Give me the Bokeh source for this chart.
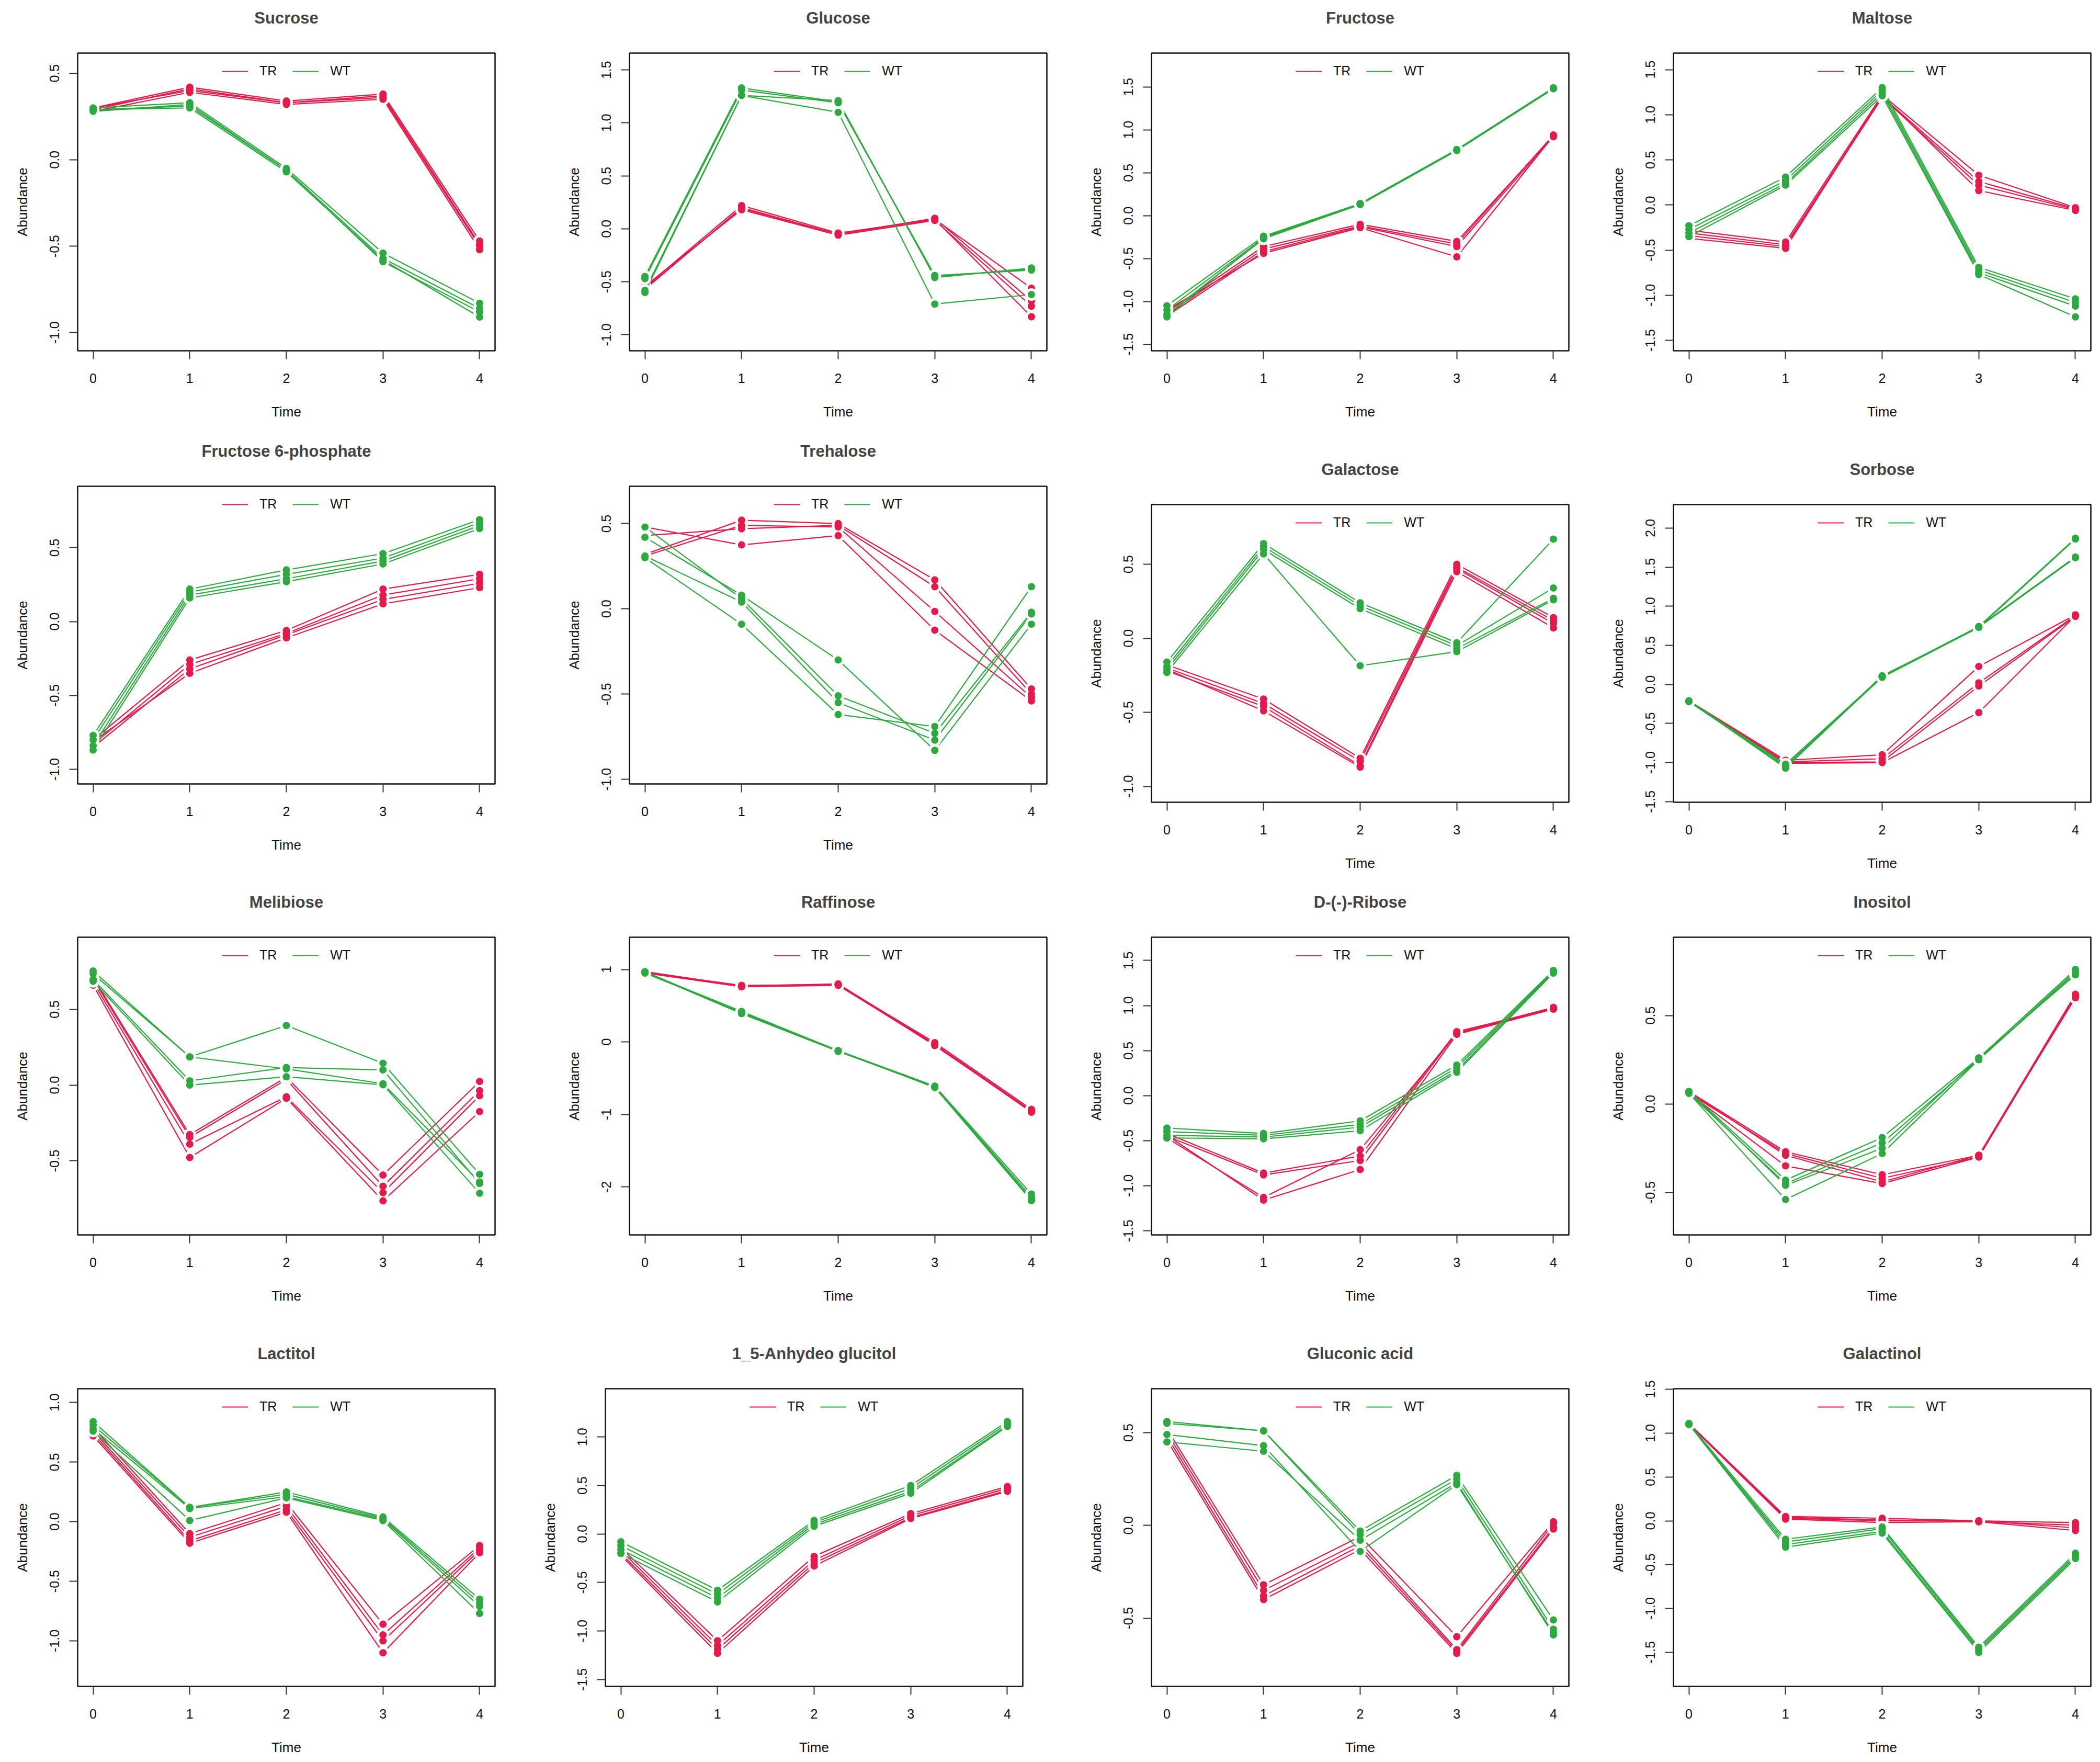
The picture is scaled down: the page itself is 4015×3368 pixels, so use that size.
from bokeh.plotting import figure
from bokeh.layouts import column, row
from bokeh.models import Range1d, FixedTicker, Legend, LegendItem, Spacer
from bokeh.embed import file_html
from bokeh.resources import INLINE

TIME = [0, 1, 2, 3, 4]

TITLES = ["Sucrose", "Glucose", "Fructose", "Maltose",
          "Fructose 6-phosphate", "Trehalose", "Galactose", "Sorbose",
          "Melibiose", "Raffinose", "D-(-)-Ribose", "Inositol",
          "Lactitol", "1_5-Anhydeo glucitol", "Gluconic acid", "Galactinol"]

# each group: 4 replicates x 5 time points
SUCROSE_TR = [[0.30, 0.42, 0.34, 0.38, -0.47], [0.29, 0.41, 0.33, 0.37, -0.49], [0.30, 0.40, 0.33, 0.36, -0.50], [0.28, 0.39, 0.32, 0.35, -0.52]]
SUCROSE_WT = [[0.30, 0.33, -0.05, -0.54, -0.83], [0.29, 0.31, -0.06, -0.57, -0.86], [0.28, 0.32, -0.06, -0.59, -0.88], [0.29, 0.30, -0.07, -0.58, -0.91]]
GLUCOSE_TR = [[-0.55, 0.22, -0.04, 0.09, -0.56], [-0.56, 0.19, -0.05, 0.10, -0.68], [-0.54, 0.18, -0.06, 0.08, -0.73], [-0.57, 0.20, -0.05, 0.09, -0.83]]
GLUCOSE_WT = [[-0.45, 1.33, 1.20, -0.45, -0.38], [-0.58, 1.26, 1.21, -0.46, -0.37], [-0.60, 1.26, 1.10, -0.71, -0.62], [-0.47, 1.31, 1.19, -0.44, -0.39]]
FRUCTOSE_TR = [[-1.12, -0.36, -0.10, -0.30, 0.93], [-1.15, -0.39, -0.12, -0.33, 0.94], [-1.17, -0.42, -0.13, -0.36, 0.92], [-1.10, -0.44, -0.14, -0.48, 0.93]]
FRUCTOSE_WT = [[-1.05, -0.24, 0.14, 0.77, 1.49], [-1.10, -0.26, 0.13, 0.76, 1.48], [-1.15, -0.27, 0.13, 0.76, 1.48], [-1.18, -0.25, 0.14, 0.77, 1.49]]
MALTOSE_TR = [[-0.28, -0.41, 1.22, 0.33, -0.03], [-0.31, -0.44, 1.20, 0.26, -0.04], [-0.34, -0.46, 1.19, 0.22, -0.05], [-0.37, -0.48, 1.21, 0.16, -0.06]]
MALTOSE_WT = [[-0.23, 0.31, 1.30, -0.69, -1.04], [-0.27, 0.27, 1.27, -0.72, -1.08], [-0.31, 0.24, 1.24, -0.75, -1.12], [-0.35, 0.22, 1.21, -0.77, -1.24]]
F6P_TR = [[-0.80, -0.26, -0.06, 0.22, 0.32], [-0.83, -0.29, -0.08, 0.18, 0.29], [-0.85, -0.32, -0.09, 0.15, 0.26], [-0.81, -0.35, -0.11, 0.12, 0.23]]
F6P_WT = [[-0.77, 0.22, 0.35, 0.46, 0.69], [-0.80, 0.20, 0.32, 0.43, 0.67], [-0.84, 0.18, 0.29, 0.41, 0.65], [-0.87, 0.16, 0.27, 0.39, 0.63]]
TREHALOSE_TR = [[0.48, 0.375, 0.43, -0.125, -0.54], [0.43, 0.47, 0.49, 0.13, -0.50], [0.32, 0.52, 0.50, 0.17, -0.47], [0.31, 0.49, 0.48, -0.015, -0.52]]
TREHALOSE_WT = [[0.48, 0.06, -0.51, -0.73, -0.02], [0.42, 0.08, -0.30, -0.83, -0.09], [0.31, 0.04, -0.55, -0.77, -0.03], [0.30, -0.09, -0.62, -0.69, 0.13]]
GALACTOSE_TR = [[-0.18, -0.41, -0.81, 0.50, 0.14], [-0.20, -0.44, -0.83, 0.48, 0.12], [-0.22, -0.46, -0.86, 0.47, 0.10], [-0.21, -0.49, -0.87, 0.45, 0.07]]
GALACTOSE_WT = [[-0.16, 0.64, 0.24, -0.03, 0.67], [-0.19, 0.62, 0.22, -0.05, 0.34], [-0.21, 0.60, 0.20, -0.07, 0.27], [-0.23, 0.57, -0.185, -0.09, 0.26]]
SORBOSE_TR = [[-0.21, -0.97, -0.90, 0.23, 0.89], [-0.22, -0.99, -0.95, 0.02, 0.88], [-0.21, -1.00, -0.99, -0.02, 0.87], [-0.22, -1.01, -1.00, -0.36, 0.88]]
SORBOSE_WT = [[-0.21, -1.02, 0.10, 0.74, 1.87], [-0.22, -1.05, 0.11, 0.73, 1.86], [-0.21, -1.07, 0.10, 0.74, 1.63], [-0.22, -1.04, 0.09, 0.73, 1.62]]
MELIBIOSE_TR = [[0.71, -0.327, 0.052, -0.594, 0.024], [0.70, -0.345, 0.037, -0.668, -0.037], [0.68, -0.39, -0.077, -0.71, -0.07], [0.66, -0.478, -0.087, -0.764, -0.175]]
MELIBIOSE_WT = [[0.753, 0.186, 0.393, 0.144, -0.589], [0.734, 0.186, 0.107, 0.009, -0.64], [0.697, 0.028, 0.116, 0.10, -0.65], [0.685, 0.0, 0.055, 0.002, -0.714]]
RAFFINOSE_TR = [[0.96, 0.78, 0.79, -0.01, -0.93], [0.97, 0.77, 0.80, -0.03, -0.95], [0.96, 0.77, 0.79, -0.05, -0.96], [0.95, 0.76, 0.78, -0.04, -0.97]]
RAFFINOSE_WT = [[0.96, 0.42, -0.12, -0.61, -2.10], [0.97, 0.40, -0.13, -0.62, -2.14], [0.96, 0.39, -0.13, -0.62, -2.17], [0.95, 0.41, -0.12, -0.63, -2.19]]
RIBOSE_TR = [[-0.42, -0.86, -0.67, 0.71, 0.97], [-0.45, -0.88, -0.72, 0.70, 0.98], [-0.47, -1.13, -0.60, 0.69, 0.97], [-0.44, -1.16, -0.82, 0.68, 0.96]]
RIBOSE_WT = [[-0.36, -0.42, -0.28, 0.34, 1.39], [-0.40, -0.44, -0.32, 0.31, 1.38], [-0.44, -0.46, -0.35, 0.28, 1.37], [-0.47, -0.48, -0.39, 0.26, 1.36]]
INOSITOL_TR = [[0.07, -0.27, -0.40, -0.29, 0.62], [0.06, -0.28, -0.42, -0.30, 0.61], [0.07, -0.29, -0.44, -0.29, 0.60], [0.06, -0.35, -0.45, -0.30, 0.61]]
INOSITOL_WT = [[0.07, -0.43, -0.19, 0.26, 0.76], [0.06, -0.45, -0.22, 0.25, 0.74], [0.07, -0.46, -0.25, 0.26, 0.73], [0.06, -0.54, -0.28, 0.25, 0.75]]
LACTITOL_TR = [[0.79, -0.10, 0.16, -0.86, -0.20], [0.76, -0.13, 0.13, -0.95, -0.22], [0.74, -0.16, 0.10, -1.00, -0.24], [0.72, -0.18, 0.08, -1.10, -0.26]]
LACTITOL_WT = [[0.84, 0.12, 0.25, 0.04, -0.65], [0.81, 0.12, 0.23, 0.03, -0.68], [0.78, 0.11, 0.21, 0.02, -0.71], [0.76, 0.01, 0.20, 0.01, -0.77]]
ANHYDRO_TR = [[-0.14, -1.10, -0.23, 0.21, 0.49], [-0.17, -1.15, -0.27, 0.19, 0.47], [-0.20, -1.19, -0.30, 0.17, 0.45], [-0.22, -1.23, -0.33, 0.16, 0.44]]
ANHYDRO_WT = [[-0.08, -0.58, 0.14, 0.50, 1.16], [-0.12, -0.62, 0.12, 0.47, 1.14], [-0.16, -0.66, 0.10, 0.44, 1.12], [-0.20, -0.70, 0.08, 0.42, 1.11]]
GLUCONIC_TR = [[0.52, -0.32, -0.06, -0.60, 0.02], [0.50, -0.35, -0.09, -0.67, 0.01], [0.48, -0.38, -0.11, -0.68, -0.01], [0.46, -0.40, -0.13, -0.69, -0.02]]
GLUCONIC_WT = [[0.56, 0.51, -0.03, 0.27, -0.51], [0.55, 0.51, -0.05, 0.25, -0.56], [0.49, 0.43, -0.14, 0.22, -0.58], [0.45, 0.40, -0.08, 0.23, -0.59]]
GALACTINOL_TR = [[1.11, 0.05, 0.03, 0.0, -0.02], [1.10, 0.04, 0.01, -0.01, -0.05], [1.11, 0.03, 0.0, 0.0, -0.08], [1.10, 0.02, -0.02, -0.01, -0.11]]
GALACTINOL_WT = [[1.11, -0.21, -0.07, -1.44, -0.37], [1.10, -0.24, -0.09, -1.46, -0.39], [1.11, -0.27, -0.12, -1.48, -0.41], [1.10, -0.30, -0.14, -1.50, -0.43]]

TR_DATA = [SUCROSE_TR, GLUCOSE_TR, FRUCTOSE_TR, MALTOSE_TR, F6P_TR, TREHALOSE_TR, GALACTOSE_TR, SORBOSE_TR,
           MELIBIOSE_TR, RAFFINOSE_TR, RIBOSE_TR, INOSITOL_TR, LACTITOL_TR, ANHYDRO_TR, GLUCONIC_TR, GALACTINOL_TR]
WT_DATA = [SUCROSE_WT, GLUCOSE_WT, FRUCTOSE_WT, MALTOSE_WT, F6P_WT, TREHALOSE_WT, GALACTOSE_WT, SORBOSE_WT,
           MELIBIOSE_WT, RAFFINOSE_WT, RIBOSE_WT, INOSITOL_WT, LACTITOL_WT, ANHYDRO_WT, GLUCONIC_WT, GALACTINOL_WT]

Y_TICKS = [
    [-1.0, -0.5, 0.0, 0.5],
    [-1.0, -0.5, 0.0, 0.5, 1.0, 1.5],
    [-1.5, -1.0, -0.5, 0.0, 0.5, 1.0, 1.5],
    [-1.5, -1.0, -0.5, 0.0, 0.5, 1.0, 1.5],
    [-1.0, -0.5, 0.0, 0.5],
    [-1.0, -0.5, 0.0, 0.5],
    [-1.0, -0.5, 0.0, 0.5],
    [-1.5, -1.0, -0.5, 0.0, 0.5, 1.0, 1.5, 2.0],
    [-0.5, 0.0, 0.5],
    [-2, -1, 0, 1],
    [-1.5, -1.0, -0.5, 0.0, 0.5, 1.0, 1.5],
    [-0.5, 0.0, 0.5],
    [-1.0, -0.5, 0.0, 0.5, 1.0],
    [-1.5, -1.0, -0.5, 0.0, 0.5, 1.0],
    [-0.5, 0.0, 0.5],
    [-1.5, -1.0, -0.5, 0.0, 0.5, 1.0, 1.5],
]
Y_DECIMALS = [1, 1, 1, 1, 1, 1, 1, 1, 1, 0, 1, 1, 1, 1, 1, 1]

Y_RANGES = [(-1.105, 0.617), (-1.151, 1.659), (-1.575, 1.895), (-1.615, 1.683),
            (-1.099, 0.916), (-1.027, 0.719), (-1.107, 0.903), (-1.507, 2.30),
            (-0.989, 0.976), (-2.663, 1.444), (-1.546, 1.758), (-0.740, 0.942),
            (-1.382, 1.116), (-1.571, 1.498), (-0.868, 0.737), (-1.888, 1.507)]
X_RANGE = (-0.16, 4.16)

RED = "#E41A4A"
GREEN = "#2DAA3F"
FONT = "Liberation Sans"

FRAME_W, FRAME_H = 798, 569
LEFT_B = [[148, 140, 140, 140]] * 4
RIGHT_B = [[117, 60, 60, 10], [117, 60, 60, 10], [117, 60, 60, 10], [71, 106, 60, 10]]
TOP_B = [101, 109, 108, 144]
BOT_B = [150, 150, 150, 140]
ROW2_RIGHT_SHIFT = 35


def make_panel(i, r, c, top, bottom):
    p = figure(frame_width=FRAME_W, frame_height=FRAME_H,
               min_border_left=LEFT_B[r][c], min_border_right=RIGHT_B[r][c],
               min_border_top=top, min_border_bottom=bottom,
               x_range=Range1d(*X_RANGE), y_range=Range1d(*Y_RANGES[i]),
               output_backend="svg", toolbar_location=None,
               x_axis_label="Time", y_axis_label="Abundance")
    # trailing empty line lifts the title further above the plot box
    p.title.text = TITLES[i] + "\n"
    p.title.align = "center"
    p.title.text_font = FONT
    p.title.text_font_size = "31px"
    p.title.text_font_style = "bold"
    p.title.text_line_height = 1.28
    p.title.standoff = 10
    p.xgrid.visible = False
    p.ygrid.visible = False
    p.outline_line_color = "#111111"
    p.outline_line_width = 2.5
    p.background_fill_color = "white"
    p.border_fill_color = "white"

    for ax in (p.xaxis[0], p.yaxis[0]):
        ax.axis_line_color = None
        ax.major_tick_in = 0
        ax.major_tick_out = 16
        ax.major_tick_line_width = 2
        ax.major_tick_line_color = "#333333"
        ax.minor_tick_line_color = None
        ax.major_label_text_font = FONT
        ax.major_label_text_font_size = "25px"
        ax.major_label_text_color = "#111111"
        ax.axis_label_text_font = FONT
        ax.axis_label_text_font_size = "26px"
        ax.axis_label_text_font_style = "normal"
        ax.axis_label_text_color = "#111111"

    p.xaxis.ticker = FixedTicker(ticks=TIME)
    p.xaxis.major_label_standoff = 27
    p.xaxis.axis_label_standoff = 37
    yt = Y_TICKS[i]
    p.yaxis.ticker = FixedTicker(ticks=yt)
    d = Y_DECIMALS[i]
    p.yaxis.major_label_overrides = {v: f"{v:.{d}f}" for v in yt}
    p.yaxis.major_label_orientation = "parallel"
    p.yaxis.major_label_standoff = 19
    p.yaxis.axis_label_standoff = 35

    items = []
    for label, data, col in (("TR", TR_DATA[i], RED), ("WT", WT_DATA[i], GREEN)):
        ml = p.multi_line(xs=[TIME] * len(data), ys=data, line_color=col, line_width=2.2)
        px = [t for rep in data for t in TIME]
        py = [v for rep in data for v in rep]
        p.scatter(px, py, size=24, fill_color="white", line_color=None)
        p.scatter(px, py, size=14, fill_color=col, line_color=None)
        items.append(LegendItem(label=label, renderers=[ml]))

    leg = Legend(items=items, location="top_center", orientation="horizontal",
                 border_line_color=None, background_fill_alpha=0.0,
                 label_text_font=FONT, label_text_font_size="25px",
                 label_text_color="#111111",
                 glyph_width=50, glyph_height=20, label_standoff=22,
                 spacing=30, margin=20, padding=10)
    p.add_layout(leg)
    return p


rows = []
for r in range(4):
    if r == 1:
        f5 = make_panel(4, 1, 0, TOP_B[1], BOT_B[1] + ROW2_RIGHT_SHIFT)
        f6 = make_panel(5, 1, 1, TOP_B[1], BOT_B[1] + ROW2_RIGHT_SHIFT)
        f7 = make_panel(6, 1, 2, TOP_B[1], BOT_B[1])
        f8 = make_panel(7, 1, 3, TOP_B[1], BOT_B[1])
        right = column(Spacer(height=ROW2_RIGHT_SHIFT, width=10), row(f7, f8, spacing=0), spacing=0)
        rows.append(row(row(f5, f6, spacing=0), right, spacing=0))
    else:
        figs = [make_panel(r * 4 + c, r, c, TOP_B[r], BOT_B[r]) for c in range(4)]
        rows.append(row(*figs, spacing=0))

layout = column(*rows, spacing=0)
open("out.html", "w").write(file_html(layout, INLINE))
